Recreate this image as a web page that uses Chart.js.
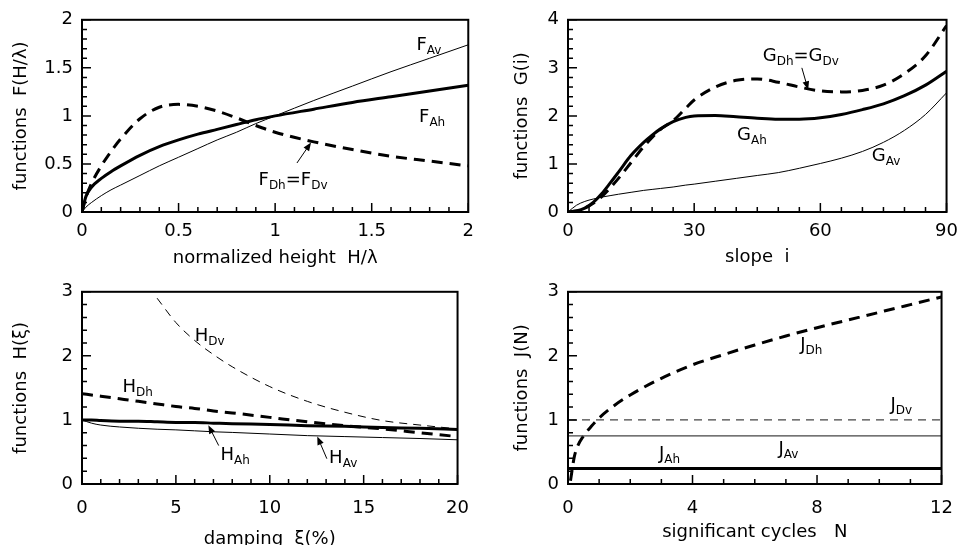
<!DOCTYPE html>
<html>
<head>
<meta charset="utf-8">
<script src="https://cdn.jsdelivr.net/npm/chart.js@4.4.0/dist/chart.umd.min.js"></script>
<style>
  html, body { margin: 0; padding: 0; background: #fff; overflow: hidden; }
  #wrap { position: relative; width: 967px; height: 545px; overflow: hidden; }
  canvas { position: absolute; }
</style>
</head>
<body>
<div id="wrap">
  <canvas id="chartF" width="483" height="272" style="left:0;top:0"></canvas>
  <canvas id="chartG" width="484" height="272" style="left:483px;top:0"></canvas>
  <canvas id="chartH" width="483" height="290" style="left:0;top:272px"></canvas>
  <canvas id="chartJ" width="484" height="290" style="left:483px;top:272px"></canvas>
</div>
<script>
// F(H/λ) — normalized height
const heightX = [0, 0.02, 0.05, 0.1, 0.15, 0.2, 0.3, 0.4, 0.5, 0.6, 0.7, 0.8, 0.9, 1.0, 1.2, 1.4, 1.6, 1.8, 2.0];
const fAv = [0, 0.05, 0.1, 0.17, 0.23, 0.28, 0.38, 0.48, 0.57, 0.66, 0.75, 0.83, 0.92, 1.0, 1.16, 1.31, 1.46, 1.6, 1.74];
const fAh = [0, 0.16, 0.26, 0.35, 0.42, 0.48, 0.59, 0.68, 0.75, 0.81, 0.86, 0.91, 0.96, 1.0, 1.07, 1.14, 1.2, 1.26, 1.32];
const fDh = [0, 0.15, 0.3, 0.48, 0.63, 0.76, 0.97, 1.09, 1.12, 1.1, 1.05, 0.98, 0.9, 0.83, 0.73, 0.65, 0.58, 0.53, 0.48];

// G(i) — slope
const slopeX = [0, 2, 4, 6, 8, 10, 12, 15, 18, 20, 22, 25, 28, 30, 35, 40, 45, 50, 55, 60, 65, 70, 75, 80, 85, 90];
const gAh = [0, 0.02, 0.08, 0.2, 0.38, 0.6, 0.83, 1.18, 1.45, 1.6, 1.73, 1.88, 1.97, 2.0, 2.01, 1.98, 1.95, 1.93, 1.93, 1.96, 2.03, 2.13, 2.25, 2.42, 2.64, 2.93];
const gDh = [0, 0.02, 0.08, 0.18, 0.32, 0.5, 0.7, 1.03, 1.36, 1.55, 1.72, 1.9, 2.16, 2.33, 2.6, 2.74, 2.77, 2.7, 2.6, 2.52, 2.5, 2.53, 2.64, 2.88, 3.25, 3.88];
const gAv = [0, 0.14, 0.22, 0.27, 0.31, 0.34, 0.37, 0.41, 0.45, 0.47, 0.49, 0.52, 0.56, 0.58, 0.64, 0.7, 0.76, 0.82, 0.91, 1.01, 1.12, 1.26, 1.45, 1.7, 2.03, 2.48];

// H(ξ) — damping
const dampX = [0, 0.5, 1, 2, 3, 4, 5, 6, 7, 8, 10, 12, 14, 16, 18, 20];
const hAh = [1.0, 1.0, 0.99, 0.98, 0.98, 0.97, 0.96, 0.96, 0.95, 0.94, 0.93, 0.91, 0.9, 0.88, 0.87, 0.85];
const hAv = [1.0, 0.95, 0.92, 0.89, 0.87, 0.855, 0.845, 0.83, 0.815, 0.805, 0.78, 0.755, 0.74, 0.725, 0.71, 0.69];
const hDh = [1.41, 1.39, 1.37, 1.33, 1.29, 1.25, 1.21, 1.18, 1.14, 1.11, 1.04, 0.97, 0.91, 0.86, 0.8, 0.74];
const dampDvX = [4, 5, 6, 7, 8, 10, 12, 14, 16, 18, 20];
const hDv = [2.9, 2.52, 2.24, 2.02, 1.83, 1.52, 1.29, 1.12, 0.99, 0.92, 0.86];

// J(N) — significant cycles
const cyclesX = [0.08, 0.2, 0.3, 0.5, 0.75, 1, 1.5, 2, 3, 4, 5, 6, 7, 8, 9, 10, 11, 12];
const jDh = [0.05, 0.42, 0.58, 0.75, 0.9, 1.03, 1.23, 1.39, 1.65, 1.86, 2.02, 2.17, 2.31, 2.44, 2.56, 2.68, 2.8, 2.92];
const flatX = [0, 12];
const jDv = [1, 1];
const jAv = [0.75, 0.75];
const jAh = [0.24, 0.24];

const FONT = '"DejaVu Sans", sans-serif';
const TEXT_SIZE = 18;
Chart.defaults.color = '#000';
Chart.defaults.font.family = FONT;

const pts = (xs, ys) => xs.map((x, i) => ({ x, y: ys[i] }));

const thin = { borderWidth: 1, borderColor: '#000' };
const thick = { borderWidth: 3, borderColor: '#000' };
const thickDash = { borderWidth: 3, borderColor: '#000', borderDash: [11, 7] };
const thinDash = { borderWidth: 1, borderColor: '#000', borderDash: [8, 6] };

// plot frame plus inward major/minor ticks on the bottom and left axes
const frameTicks = {
  id: 'frameTicks',
  afterDraw(chart, args, opts) {
    const { ctx, chartArea: a, scales: { x, y } } = chart;
    ctx.save();
    ctx.strokeStyle = '#000';
    ctx.lineWidth = 1.5;
    ctx.beginPath();
    const nx = Math.round((x.max - x.min) / opts.xMinor);
    const kx = Math.round(opts.xMajor / opts.xMinor);
    for (let i = 0; i <= nx; i++) {
      const px = x.getPixelForValue(x.min + i * opts.xMinor);
      ctx.moveTo(px, a.bottom);
      ctx.lineTo(px, a.bottom - (i % kx === 0 ? 9 : 5));
    }
    const ny = Math.round((y.max - y.min) / opts.yMinor);
    const ky = Math.round(opts.yMajor / opts.yMinor);
    for (let i = 0; i <= ny; i++) {
      const py = y.getPixelForValue(y.min + i * opts.yMinor);
      ctx.moveTo(a.left, py);
      ctx.lineTo(a.left + (i % ky === 0 ? 9 : 5), py);
    }
    ctx.stroke();
    ctx.lineWidth = 2;
    ctx.strokeRect(a.left, a.top, a.right - a.left, a.bottom - a.top);
    ctx.restore();
  }
};

// curve names with subscripts, and the little pointer arrows
const curveLabels = {
  id: 'curveLabels',
  afterDatasetsDraw(chart, args, opts) {
    const { ctx, scales: { x, y } } = chart;
    ctx.save();
    ctx.fillStyle = '#000';
    ctx.strokeStyle = '#000';
    ctx.textBaseline = 'alphabetic';
    ctx.textAlign = 'left';
    (opts.labels || []).forEach(lab => {
      let px = x.getPixelForValue(lab.x);
      const py = y.getPixelForValue(lab.y);
      lab.parts.forEach(([main, sub]) => {
        ctx.font = TEXT_SIZE + 'px ' + FONT;
        ctx.fillText(main, px, py);
        px += ctx.measureText(main).width;
        if (sub) {
          ctx.font = '12px ' + FONT;
          ctx.fillText(sub, px, py + 4);
          px += ctx.measureText(sub).width;
        }
      });
    });
    (opts.arrows || []).forEach(([x0, y0, x1, y1]) => {
      const ax = x.getPixelForValue(x0), ay = y.getPixelForValue(y0);
      const bx = x.getPixelForValue(x1), by = y.getPixelForValue(y1);
      const ang = Math.atan2(by - ay, bx - ax);
      ctx.lineWidth = 1;
      ctx.beginPath();
      ctx.moveTo(ax, ay);
      ctx.lineTo(bx - 5 * Math.cos(ang), by - 5 * Math.sin(ang));
      ctx.stroke();
      ctx.beginPath();
      ctx.moveTo(bx, by);
      ctx.lineTo(bx - 9 * Math.cos(ang - 0.38), by - 9 * Math.sin(ang - 0.38));
      ctx.lineTo(bx - 9 * Math.cos(ang + 0.38), by - 9 * Math.sin(ang + 0.38));
      ctx.closePath();
      ctx.fill();
    });
    ctx.restore();
  }
};

function makePanel(id, p) {
  return new Chart(document.getElementById(id), {
    type: 'line',
    data: { datasets: p.datasets.map(d => Object.assign({ pointRadius: 0, fill: false, cubicInterpolationMode: 'monotone' }, d)) },
    plugins: [frameTicks, curveLabels],
    options: {
      responsive: false,
      animation: false,
      layout: { padding: { left: 0, top: p.padTop, right: p.padRight, bottom: 0 } },
      scales: {
        x: {
          type: 'linear', min: p.x.min, max: p.x.max,
          grid: { display: false, drawTicks: false }, border: { display: false },
          ticks: { stepSize: p.x.step, padding: p.x.tickPad, maxRotation: 0, font: { size: TEXT_SIZE }, callback: v => String(v) },
          title: { display: true, text: p.x.title, font: { size: TEXT_SIZE }, padding: { top: 0, bottom: p.x.titlePad } },
          afterFit(s) { s.height = p.x.height; }
        },
        y: {
          type: 'linear', min: p.y.min, max: p.y.max,
          grid: { display: false, drawTicks: false }, border: { display: false },
          ticks: { stepSize: p.y.step, padding: 9, font: { size: TEXT_SIZE }, callback: v => String(v) },
          title: { display: true, text: p.y.title, font: { size: TEXT_SIZE }, padding: { top: p.y.titlePad, bottom: 0 } },
          afterFit(s) { s.width = p.y.width; }
        }
      },
      plugins: {
        legend: { display: false },
        tooltip: { enabled: false },
        frameTicks: p.ticks,
        curveLabels: p.notes
      }
    }
  });
}

makePanel('chartF', {
  padTop: 16, padRight: 13,
  x: { min: 0, max: 2, step: 0.5, tickPad: 9, title: 'normalized height  H/λ', titlePad: 3, height: 60 },
  y: { min: 0, max: 2, step: 0.5, title: 'functions  F(H/λ)', titlePad: 11, width: 82 },
  ticks: { xMinor: 0.1, xMajor: 0.5, yMinor: 0.1, yMajor: 0.5 },
  datasets: [
    Object.assign({ data: pts(heightX, fAv) }, thin),
    Object.assign({ data: pts(heightX, fAh) }, thick),
    Object.assign({ data: pts(heightX, fDh) }, thickDash)
  ],
  notes: {
    labels: [
      { x: 1.732, y: 1.684, parts: [['F', 'Av']] },
      { x: 1.745, y: 0.932, parts: [['F', 'Ah']] },
      { x: 0.914, y: 0.276, parts: [['F', 'Dh'], ['=', ''], ['F', 'Dv']] }
    ],
    arrows: [[1.113, 0.51, 1.186, 0.724]]
  }
});

makePanel('chartG', {
  padTop: 16, padRight: 10,
  x: { min: 0, max: 90, step: 30, tickPad: 9, title: 'slope  i', titlePad: 4, height: 60 },
  y: { min: 0, max: 4, step: 1, title: 'functions  G(i)', titlePad: 29, width: 85 },
  ticks: { xMinor: 5, xMajor: 30, yMinor: 0.2, yMajor: 1 },
  datasets: [
    Object.assign({ data: pts(slopeX, gAv) }, thin),
    Object.assign({ data: pts(slopeX, gAh) }, thick),
    Object.assign({ data: pts(slopeX, gDh) }, thickDash)
  ],
  notes: {
    labels: [
      { x: 46.3, y: 3.14, parts: [['G', 'Dh'], ['=', ''], ['G', 'Dv']] },
      { x: 40.2, y: 1.5, parts: [['G', 'Ah']] },
      { x: 72.2, y: 1.06, parts: [['G', 'Av']] }
    ],
    arrows: [[55.6, 3.0, 57.1, 2.545]]
  }
});

makePanel('chartH', {
  padTop: 17, padRight: 13,
  x: { min: 0, max: 20, step: 5, tickPad: 14, title: 'damping  ξ(%)', titlePad: 12, height: 78 },
  y: { min: 0, max: 3, step: 1, title: 'functions  H(ξ)', titlePad: 11, width: 82 },
  ticks: { xMinor: 1, xMajor: 5, yMinor: 0.2, yMajor: 1 },
  datasets: [
    Object.assign({ data: pts(dampX, hAv) }, thin),
    Object.assign({ data: pts(dampX, hAh) }, thick),
    Object.assign({ data: pts(dampX, hDh) }, thickDash),
    Object.assign({ data: pts(dampDvX, hDv) }, thinDash)
  ],
  notes: {
    labels: [
      { x: 6.0, y: 2.23, parts: [['H', 'Dv']] },
      { x: 2.16, y: 1.43, parts: [['H', 'Dh']] },
      { x: 7.37, y: 0.37, parts: [['H', 'Ah']] },
      { x: 13.16, y: 0.33, parts: [['H', 'Av']] }
    ],
    arrows: [[7.28, 0.6, 6.73, 0.918], [13.04, 0.395, 12.53, 0.743]]
  }
});

makePanel('chartJ', {
  padTop: 17, padRight: 10,
  x: { min: 0, max: 12, step: 4, tickPad: 14, title: 'significant cycles   N', titlePad: 19, height: 78 },
  y: { min: 0, max: 3, step: 1, title: 'functions  J(N)', titlePad: 29, width: 85 },
  ticks: { xMinor: 1, xMajor: 4, yMinor: 0.2, yMajor: 1 },
  datasets: [
    Object.assign({ data: pts(flatX, jDv) }, thinDash, { borderColor: '#444', borderWidth: 1.2 }),
    Object.assign({ data: pts(flatX, jAv) }, thin, { borderColor: '#444', borderWidth: 1.2 }),
    Object.assign({ data: pts(flatX, jAh) }, thick),
    Object.assign({ data: pts(cyclesX, jDh) }, thickDash)
  ],
  notes: {
    labels: [
      { x: 7.46, y: 2.09, parts: [['J', 'Dh']] },
      { x: 10.36, y: 1.15, parts: [['J', 'Dv']] },
      { x: 2.92, y: 0.385, parts: [['J', 'Ah']] },
      { x: 6.76, y: 0.47, parts: [['J', 'Av']] }
    ]
  }
});
</script>
</body>
</html>
